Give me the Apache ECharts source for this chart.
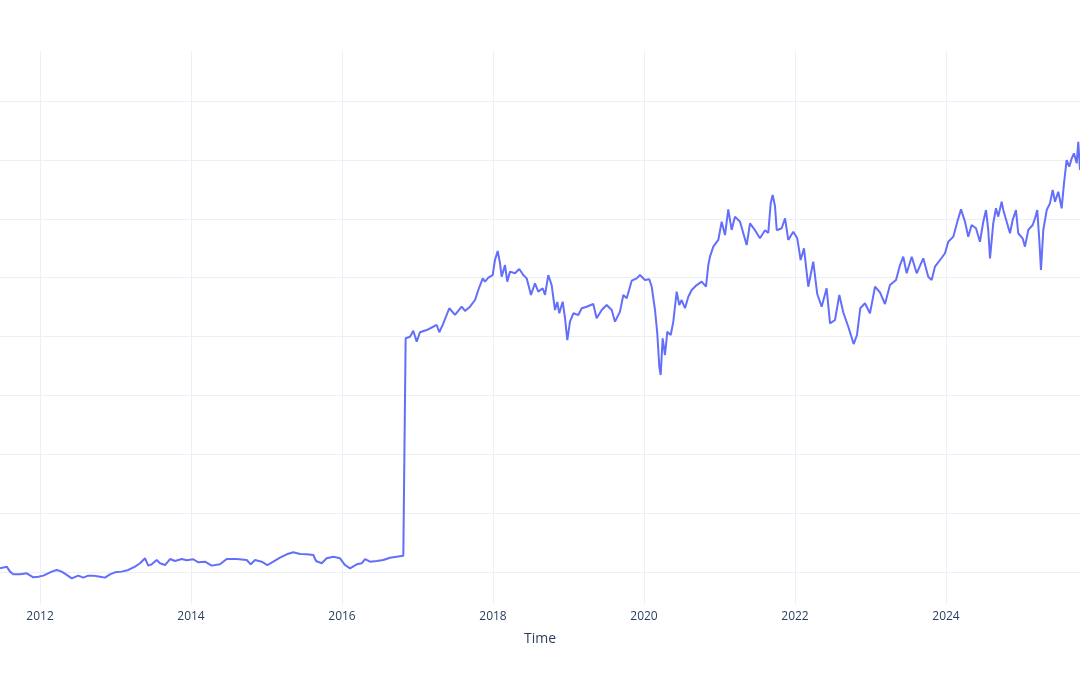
<!DOCTYPE html>
<html>
<head>
<meta charset="utf-8">
<script src="https://cdn.jsdelivr.net/npm/echarts@6/dist/echarts.min.js"></script>
<style>
  html, body { margin: 0; padding: 0; background: #fff; }
  #chart { width: 1080px; height: 675px; }
</style>
</head>
<body>
<div id="chart"></div>
<script>
// time as decimal year
const years = [
  2011.470, 2011.559, 2011.603, 2011.646, 2011.735, 2011.824, 2011.911, 2011.977, 2012.044, 2012.155,
  2012.221, 2012.287, 2012.354, 2012.420, 2012.507, 2012.574, 2012.640, 2012.706, 2012.795, 2012.861,
  2012.927, 2012.993, 2013.082, 2013.170, 2013.258, 2013.325, 2013.391, 2013.434, 2013.479, 2013.546,
  2013.589, 2013.656, 2013.722, 2013.788, 2013.877, 2013.943, 2014.030, 2014.097, 2014.185, 2014.274,
  2014.384, 2014.473, 2014.605, 2014.738, 2014.791, 2014.848, 2014.936, 2015.011, 2015.090, 2015.179,
  2015.268, 2015.355, 2015.444, 2015.532, 2015.620, 2015.656, 2015.731, 2015.797, 2015.885, 2015.974,
  2016.040, 2016.106, 2016.195, 2016.261, 2016.305, 2016.371, 2016.460, 2016.547, 2016.636, 2016.724,
  2016.812, 2016.838, 2016.843, 2016.901, 2016.944, 2016.989, 2017.033, 2017.122, 2017.209, 2017.254,
  2017.289, 2017.342, 2017.421, 2017.497, 2017.585, 2017.629, 2017.695, 2017.762, 2017.805, 2017.864,
  2017.894, 2017.938, 2017.996, 2018.026, 2018.062, 2018.093, 2018.115, 2018.159, 2018.189, 2018.225,
  2018.291, 2018.348, 2018.401, 2018.446, 2018.503, 2018.556, 2018.600, 2018.658, 2018.689, 2018.732,
  2018.777, 2018.821, 2018.851, 2018.878, 2018.923, 2018.954, 2018.984, 2019.020, 2019.064, 2019.130,
  2019.175, 2019.241, 2019.328, 2019.373, 2019.440, 2019.506, 2019.572, 2019.616, 2019.682, 2019.726,
  2019.771, 2019.837, 2019.903, 2019.947, 2020.013, 2020.070, 2020.102, 2020.146, 2020.176, 2020.203,
  2020.221, 2020.247, 2020.278, 2020.309, 2020.354, 2020.388, 2020.433, 2020.467, 2020.499, 2020.543,
  2020.587, 2020.632, 2020.698, 2020.764, 2020.821, 2020.852, 2020.874, 2020.918, 2020.984, 2021.029,
  2021.073, 2021.116, 2021.161, 2021.205, 2021.272, 2021.360, 2021.404, 2021.470, 2021.536, 2021.603,
  2021.646, 2021.678, 2021.704, 2021.735, 2021.758, 2021.824, 2021.868, 2021.911, 2021.977, 2022.030,
  2022.075, 2022.119, 2022.176, 2022.242, 2022.295, 2022.353, 2022.419, 2022.464, 2022.530, 2022.587,
  2022.640, 2022.706, 2022.777, 2022.821, 2022.865, 2022.927, 2022.993, 2023.060, 2023.126, 2023.192,
  2023.258, 2023.338, 2023.391, 2023.434, 2023.479, 2023.546, 2023.612, 2023.699, 2023.765, 2023.810,
  2023.854, 2023.921, 2023.987, 2024.030, 2024.097, 2024.150, 2024.199, 2024.252, 2024.295, 2024.340,
  2024.397, 2024.450, 2024.494, 2024.530, 2024.560, 2024.583, 2024.626, 2024.662, 2024.692, 2024.737,
  2024.759, 2024.804, 2024.848, 2024.883, 2024.927, 2024.957, 2025.015, 2025.046, 2025.090, 2025.148,
  2025.179, 2025.209, 2025.236, 2025.258, 2025.289, 2025.334, 2025.377, 2025.413, 2025.444, 2025.487,
  2025.532, 2025.563, 2025.598, 2025.633, 2025.665, 2025.695, 2025.731, 2025.752, 2025.775
]

const values = [
  53.1, 54.5, 50.3, 48.0, 48.0, 48.9, 45.5, 46.0, 46.9, 50.3,
  51.7, 50.3, 47.5, 44.6, 46.9, 45.2, 46.9, 46.9, 46.0, 45.2,
  48.0, 49.7, 50.3, 51.7, 54.5, 57.4, 61.6, 55.4, 56.5, 60.2,
  57.4, 55.9, 61.0, 59.3, 61.0, 59.9, 60.8, 58.2, 58.7, 55.4,
  56.5, 61.0, 61.0, 60.2, 56.5, 60.2, 58.7, 55.9, 58.7, 62.1,
  65.0, 66.7, 65.3, 65.0, 64.4, 59.3, 57.4, 61.6, 63.0, 61.6,
  55.9, 53.1, 56.5, 57.4, 61.0, 58.7, 59.3, 60.2, 62.1, 63.0,
  63.8, 63.6, 248.5, 249.8, 254.9, 245.6, 253.6, 255.5, 258.3, 259.8,
  253.6, 261.2, 274.0, 268.3, 275.3, 271.7, 275.3, 281.0, 289.5, 299.4,
  296.6, 300.0, 302.2, 315.0, 322.6, 312.2, 300.8, 310.7, 296.6, 305.1,
  303.7, 307.3, 302.2, 299.4, 285.3, 295.2, 288.1, 291.0, 285.3, 302.2,
  293.7, 272.5, 279.3, 269.7, 279.6, 265.5, 247.0, 262.6, 269.7, 268.3,
  274.0, 275.3, 277.6, 265.5, 272.5, 276.8, 272.5, 262.6, 271.1, 285.3,
  282.5, 297.4, 299.4, 302.2, 298.0, 298.6, 292.3, 272.5, 252.7, 224.3,
  217.3, 248.5, 234.3, 254.1, 251.3, 262.6, 288.1, 276.8, 281.0, 274.0,
  283.8, 289.5, 293.7, 296.6, 292.3, 310.7, 317.8, 326.3, 332.0, 347.5,
  336.2, 358.0, 340.5, 351.8, 347.5, 327.7, 346.1, 340.3, 333.4, 340.3,
  337.9, 363.1, 370.2, 360.9, 340.3, 341.9, 350.4, 332.0, 339.0, 333.4,
  315.0, 324.9, 292.3, 313.5, 286.1, 275.3, 290.9, 261.2, 264.0, 285.3,
  270.4, 258.3, 243.6, 251.3, 274.0, 278.2, 269.7, 292.3, 287.4, 277.6,
  293.7, 298.0, 310.7, 317.8, 303.7, 317.8, 303.7, 316.4, 300.8, 298.0,
  309.3, 315.0, 320.7, 330.5, 334.8, 347.5, 358.0, 347.5, 334.8, 344.7,
  341.9, 330.5, 347.5, 357.4, 340.3, 316.4, 346.1, 358.9, 351.8, 364.5,
  357.4, 347.5, 337.7, 349.0, 357.4, 337.7, 333.4, 326.3, 340.5, 344.7,
  350.4, 357.4, 331.9, 306.5, 340.5, 357.4, 363.1, 374.4, 364.5, 373.0,
  358.9, 380.1, 399.9, 394.2, 401.3, 405.6, 397.1, 415.4, 391.4
]

const xRange = [2011.47, 2025.775]
const yRange = [22.8, 492.5]

const points = years.map((t, i) => [t, values[i]])

const gridColor = '#EBF0F8'
const textColor = '#2a3f5f'
const fontFamily = '"Open Sans", "DejaVu Sans", sans-serif'

const chart = echarts.init(document.getElementById('chart'), null, { renderer: 'canvas' })
chart.setOption({
  animation: false,
  backgroundColor: '#fff',
  grid: { left: 0, right: 0, top: 51, bottom: 71, containLabel: false },
  xAxis: {
    type: 'value',
    min: xRange[0],
    max: xRange[1],
    splitNumber: 7,
    minInterval: 2,
    maxInterval: 2,
    name: 'Time',
    nameLocation: 'middle',
    nameGap: 28,
    nameTextStyle: { color: textColor, fontSize: 14, fontFamily: fontFamily },
    axisLine: { show: false },
    axisTick: { show: false },
    axisLabel: {
      color: textColor,
      fontSize: 12,
      fontFamily: fontFamily,
      margin: 7,
      showMinLabel: false,
      showMaxLabel: false,
      formatter: v => String(Math.round(v))
    },
    splitLine: {
      show: true,
      showMinLine: false,
      showMaxLine: false,
      lineStyle: { color: gridColor, width: 1 }
    }
  },
  yAxis: {
    type: 'value',
    min: yRange[0],
    max: yRange[1],
    splitNumber: 9,
    minInterval: 50,
    maxInterval: 50,
    axisLine: { show: false },
    axisTick: { show: false },
    axisLabel: { show: false },
    splitLine: {
      show: true,
      showMinLine: false,
      showMaxLine: false,
      lineStyle: { color: gridColor, width: 1 }
    }
  },
  series: [{
    type: 'line',
    data: points,
    showSymbol: false,
    symbol: 'none',
    lineStyle: { color: '#636efa', width: 2 },
    itemStyle: { color: '#636efa' }
  }]
})
</script>
</body>
</html>
